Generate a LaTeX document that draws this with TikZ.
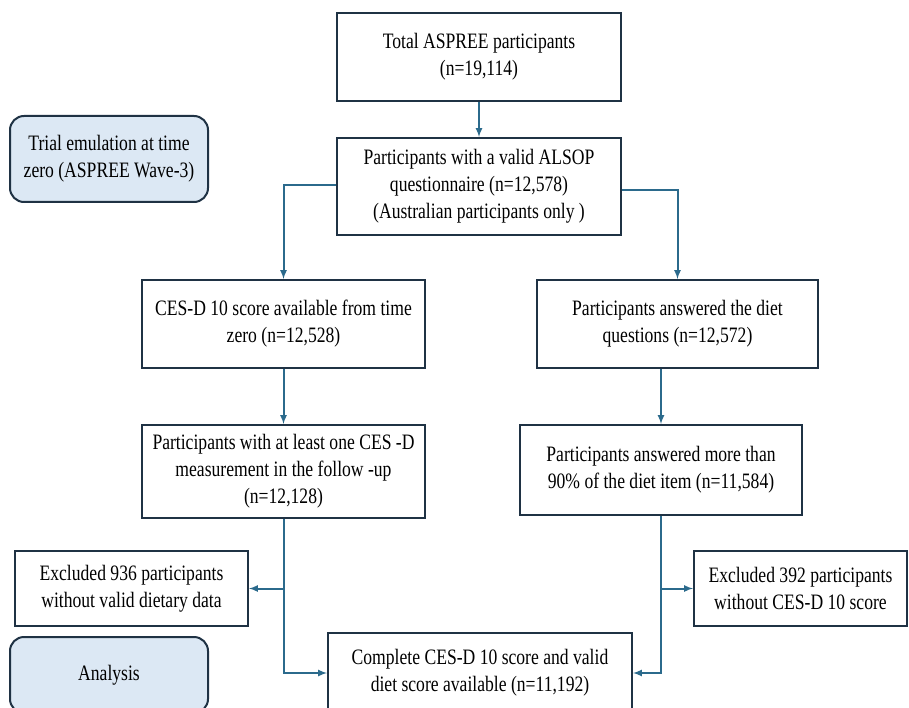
\documentclass[tikz,border=0pt]{standalone}
\usepackage{fontspec}
\setmainfont{Liberation Serif}[FakeStretch=0.8]
\usetikzlibrary{arrows}
\definecolor{boxline}{HTML}{1F3244}
\definecolor{flowline}{HTML}{2B6A8C}
\definecolor{stagefill}{HTML}{DCE8F4}

\begin{document}
\begin{tikzpicture}[x=1pt,y=-1pt,
        box/.style={draw=boxline,line width=2pt,align=center,inner sep=2pt,
                    font=\fontsize{22}{27}\selectfont},
        stage/.style={box,rounded corners=14pt,fill=stagefill},
        flow/.style={flowline,line width=2pt,-latex}]

        \useasboundingbox (0,0) rectangle (909,708);

        \node[box,minimum width=284pt,minimum height=88pt]  (Total)    at (479,57)    {Total ASPREE participants\\(n=19,114)};
        \node[box,minimum width=284pt,minimum height=97pt]  (Alsop)    at (479,186.5) {Participants with a valid ALSOP\\questionnaire (n=12,578)\\(Australian participants only )};
        \node[stage,minimum width=198pt,minimum height=86pt] (Trial)   at (109,159)   {Trial emulation at time\\zero (ASPREE Wave-3)};
        \node[box,minimum width=283pt,minimum height=88pt]  (Cesd)     at (283.5,324) {CES-D 10 score available from time\\zero (n=12,528)};
        \node[box,minimum width=281pt,minimum height=88pt]  (Diet)     at (677.5,324) {Participants answered the diet\\questions (n=12,572)};
        \node[box,minimum width=283pt,minimum height=93pt]  (Followup) at (283.5,471.5) {Participants with at least one CES -D\\measurement in the follow -up\\(n=12,128)};
        \node[box,minimum width=282pt,minimum height=90pt]  (Ninety)   at (661,470)   {Participants answered more than\\90\% of the diet item (n=11,584)};
        \node[box,minimum width=233pt,minimum height=75pt]  (ExclDiet) at (131.5,588.5) {Excluded 936 participants\\without valid dietary data};
        \node[box,minimum width=213pt,minimum height=75pt]  (ExclCesd) at (800.5,588.5) {Excluded 392 participants\\without CES-D 10 score};
        \node[stage,minimum width=198pt,minimum height=76pt] (Analysis) at (109,675)  {Analysis};
        \node[box,minimum width=304pt,minimum height=80pt]  (Complete) at (480,673)   {Complete CES-D 10 score and valid\\diet score available (n=11,192)};

        \draw[flow] (Total) -- (Alsop);
        \draw[flow] (Cesd) -- (Followup);
        \draw[flow] (Ninety.north |- Diet.south) -- (Ninety.north);
        \draw[flow] ([yshift=1.5pt]Alsop.west) -| (Cesd.north);
        \draw[flow] ([yshift=-3.5pt]Alsop.east) -| (Diet.north);
        \draw[flow] (Followup.south) |- (Complete.west);
        \draw[flow] (Followup.south |- ExclDiet.east) -- (ExclDiet.east);
        \draw[flow] (Ninety.south) |- (Complete.east);
        \draw[flow] (Ninety.south |- ExclCesd.west) -- (ExclCesd.west);
\end{tikzpicture}
\end{document}
